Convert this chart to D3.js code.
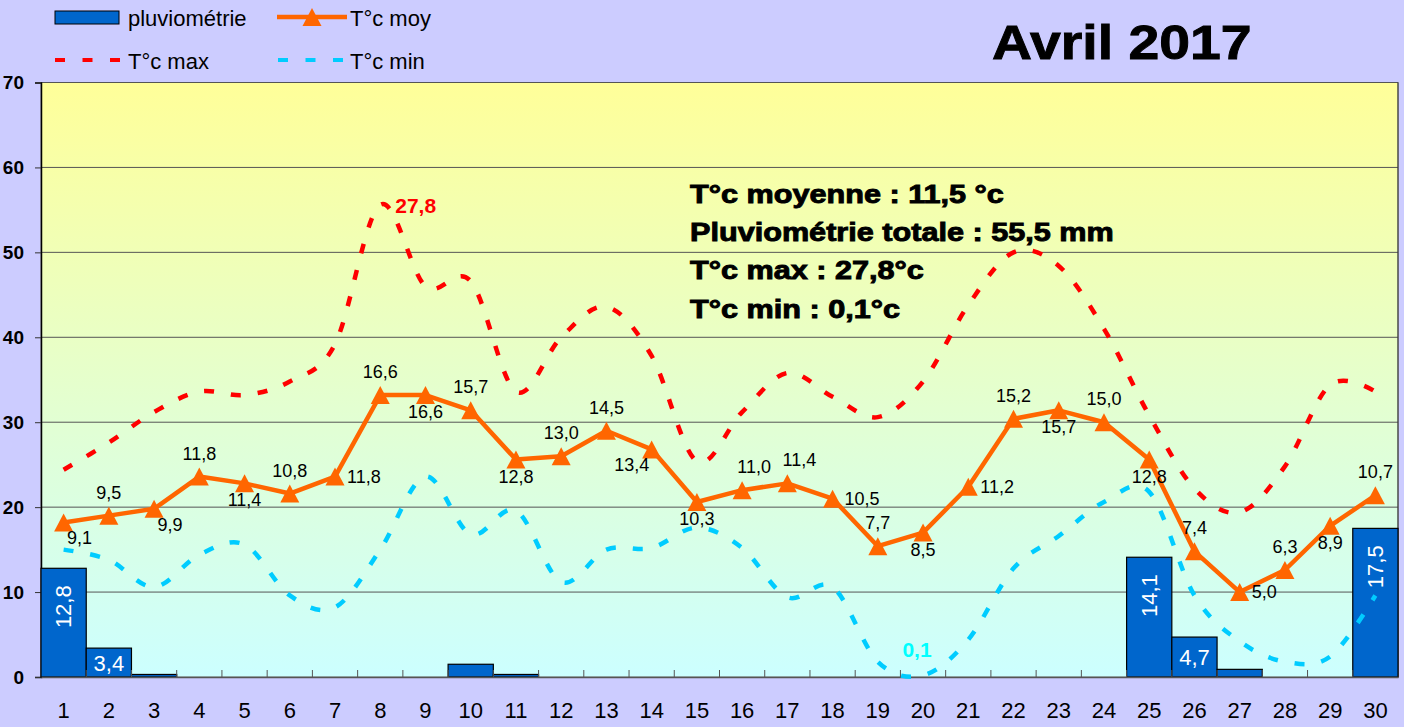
<!DOCTYPE html>
<html>
<head>
<meta charset="utf-8">
<script src="https://cdn.jsdelivr.net/npm/d3@7"></script>
<style>
  body { margin: 0; background: #ccccff; }
  text { font-family: "Liberation Sans", Arial, sans-serif; }
</style>
</head>
<body>
<div id="chart"></div>
<script>
// data
const days = [1, 2, 3, 4, 5, 6, 7, 8, 9, 10, 11, 12, 13, 14, 15, 16, 17, 18, 19, 20, 21, 22, 23, 24, 25, 26, 27, 28, 29, 30]
const rain = [12.8, 3.4, 0.3, 0, 0, 0, 0, 0, 0, 1.5, 0.3, 0, 0, 0, 0, 0, 0, 0, 0, 0, 0, 0, 0, 0, 14.1, 4.7, 0.9, 0, 0, 17.5]
const tMoy = [9.1, 9.5, 9.9, 11.8, 11.4, 10.8, 11.8, 16.6, 16.6, 15.7, 12.8, 13.0, 14.5, 13.4, 10.3, 11.0, 11.4, 10.5, 7.7, 8.5, 11.2, 15.2, 15.7, 15.0, 12.8, 7.4, 5.0, 6.3, 8.9, 10.7]
const tMax = [12.2, 13.8, 15.6, 16.8, 16.6, 17.4, 19.6, 27.8, 23.0, 23.3, 16.8, 20.0, 21.8, 18.9, 12.7, 15.6, 17.9, 16.5, 15.3, 17.4, 21.9, 25.0, 24.2, 20.5, 15.4, 11.1, 9.7, 12.4, 17.2, 16.8]
const tMin = [7.5, 6.9, 5.3, 7.2, 7.8, 4.8, 4.1, 7.5, 11.8, 8.4, 9.8, 5.6, 7.5, 7.6, 8.8, 7.6, 4.7, 5.3, 0.9, 0.1, 2.2, 6.4, 8.3, 10.3, 10.9, 4.8, 2.1, 0.9, 1.2, 4.8]
const yTicks = [0, 10, 20, 30, 40, 50, 60, 70]
// where the label of each T°c moy point sits
const moyLabelPos = ['br', 'a', 'br', 'a', 'b', 'a', 'r', 'a', 'b', 'a', 'b', 'a', 'a', 'bl', 'b', 'ar', 'ar', 'r', 'a', 'b', 'r', 'a', 'b', 'a', 'b', 'a', 'r', 'a', 'b', 'a']

const width = 1404, height = 727
const plot = { left: 41, right: 1398, top: 82.5, bottom: 677 }
const colors = { bar: "#0066cc", moy: "#ff6600", max: "#ff0000", min: "#00ccff", minLabel: "#00ffff", grid: "#555555" }
const fmt = v => d3.format(".1f")(v).replace(".", ",")

const svg = d3.select("#chart")
    .append("svg")
    .attr("width", width)
    .attr("height", height)
    .style("background-color", "#ccccff")

const defs = svg.append("defs")
const grad = defs.append("linearGradient")
    .attr("id", "plot-bg")
    .attr("x1", 0).attr("y1", 0).attr("x2", 0).attr("y2", 1)
grad.append("stop").attr("offset", "0%").attr("stop-color", "#ffff99")
grad.append("stop").attr("offset", "100%").attr("stop-color", "#ccffff")

// scales
const x = d3.scaleBand()
    .domain(days)
    .range([plot.left, plot.right])
    .padding(0)

const y = d3.scaleLinear()
    .domain([0, 70])
    .range([plot.bottom, plot.top])

// temperatures use a hidden secondary axis, 0..35
const yT = d3.scaleLinear()
    .domain([0, 35])
    .range([plot.bottom, plot.top])

const cx = d => x(d) + x.bandwidth() / 2

// plot background
svg.append("rect")
    .attr("x", plot.left)
    .attr("y", plot.top)
    .attr("width", plot.right - plot.left)
    .attr("height", plot.bottom - plot.top)
    .attr("fill", "url(#plot-bg)")
    .attr("stroke", "#777")

// grid
svg.append("g")
    .selectAll("line")
    .data(yTicks.filter(t => t > 0))
    .join("line")
    .attr("x1", plot.left)
    .attr("x2", plot.right)
    .attr("y1", d => y(d))
    .attr("y2", d => y(d))
    .attr("stroke", colors.grid)
    .attr("stroke-width", 1)

// right border
svg.append("line")
    .attr("x1", plot.right).attr("x2", plot.right)
    .attr("y1", plot.top).attr("y2", plot.bottom)
    .attr("stroke", "#333")

// y axis
const yAxis = svg.append("g")
    .attr("transform", `translate(${plot.left},0)`)
    .call(d3.axisLeft(y).tickValues(yTicks).tickSize(6).tickPadding(11))
yAxis.select(".domain").attr("stroke", "#000").attr("stroke-width", 1.5)
yAxis.selectAll(".tick line").attr("stroke", "#333")
yAxis.selectAll("text")
    .style("font-family", '"Liberation Sans", Arial, sans-serif')
    .attr("font-size", 19)
    .attr("font-weight", "bold")
    .attr("fill", "#000")

// bars
svg.append("g")
    .selectAll("rect")
    .data(days.filter((d, i) => rain[i] > 0))
    .join("rect")
    .attr("x", d => x(d))
    .attr("width", x.bandwidth())
    .attr("y", d => y(rain[d - 1]))
    .attr("height", d => y(0) - y(rain[d - 1]))
    .attr("fill", colors.bar)
    .attr("stroke", "#000")
    .attr("stroke-width", 1.2)

// x axis
const xAxis = svg.append("g")
    .attr("transform", `translate(0,${plot.bottom})`)
    .call(d3.axisBottom(x).tickSize(0).tickPadding(25))
xAxis.select(".domain").attr("stroke", "#555").attr("stroke-width", 1.5)
xAxis.selectAll("text")
    .style("font-family", '"Liberation Sans", Arial, sans-serif')
    .attr("font-size", 22)
    .attr("fill", "#000")

// small ticks between categories, pointing up
svg.append("g")
    .selectAll("line")
    .data(days.slice(1))
    .join("line")
    .attr("x1", d => x(d))
    .attr("x2", d => x(d))
    .attr("y1", plot.bottom)
    .attr("y2", plot.bottom - 7)
    .attr("stroke", "#555")

// bar labels
days.forEach((d, i) => {
    const v = rain[i]
    if (v < 2) return
    if (v >= 10) {
        svg.append("text")
            .attr("transform", `translate(${cx(d)},${y(v) + 17}) rotate(-90)`)
            .attr("text-anchor", "end")
            .attr("dominant-baseline", "central")
            .attr("font-size", 22)
            .attr("fill", "#fff")
            .text(fmt(v))
    } else {
        svg.append("text")
            .attr("x", cx(d))
            .attr("y", (y(v) + y(0)) / 2 + 8)
            .attr("text-anchor", "middle")
            .attr("font-size", 22)
            .attr("fill", "#fff")
            .text(fmt(v))
    }
})

// smoothed max / min lines
const smooth = (arr) => d3.line()
    .x((v, i) => cx(days[i]))
    .y(v => yT(v))
    .curve(d3.curveCardinal.tension(0))(arr)

svg.append("path")
    .attr("d", smooth(tMax))
    .attr("fill", "none")
    .attr("stroke", colors.max)
    .attr("stroke-width", 4.5)
    .attr("stroke-dasharray", "10,17")

svg.append("path")
    .attr("d", smooth(tMin))
    .attr("fill", "none")
    .attr("stroke", colors.min)
    .attr("stroke-width", 4.5)
    .attr("stroke-dasharray", "10,17")

// mean line
svg.append("path")
    .attr("d", d3.line().x((v, i) => cx(days[i])).y(v => yT(v))(tMoy))
    .attr("fill", "none")
    .attr("stroke", colors.moy)
    .attr("stroke-width", 4.5)
    .attr("stroke-linejoin", "round")

const trianglePath = "M0,-9L9.5,9L-9.5,9Z"
svg.append("g")
    .selectAll("path")
    .data(days)
    .join("path")
    .attr("d", trianglePath)
    .attr("transform", (d, i) => `translate(${cx(d)},${yT(tMoy[i])})`)
    .attr("fill", colors.moy)

// mean labels
const offsets = {
    a: { dx: 0, dy: -17, anchor: "middle" },
    ar: { dx: 12, dy: -17, anchor: "middle" },
    b: { dx: 0, dy: 23, anchor: "middle" },
    br: { dx: 16, dy: 22, anchor: "middle" },
    bl: { dx: -20, dy: 22, anchor: "middle" },
    r: { dx: 12, dy: 6, anchor: "start" }
}
svg.append("g")
    .selectAll("text")
    .data(days)
    .join("text")
    .attr("x", (d, i) => cx(d) + offsets[moyLabelPos[i]].dx)
    .attr("y", (d, i) => yT(tMoy[i]) + offsets[moyLabelPos[i]].dy)
    .attr("text-anchor", (d, i) => offsets[moyLabelPos[i]].anchor)
    .attr("font-size", 18)
    .attr("fill", "#000")
    .text((d, i) => fmt(tMoy[i]))

// extreme labels
const iMax = d3.maxIndex(tMax), iMin = d3.minIndex(tMin)
svg.append("text")
    .attr("x", cx(days[iMax]) + 15)
    .attr("y", yT(tMax[iMax]) + 8)
    .attr("font-size", 21)
    .attr("font-weight", "bold")
    .attr("fill", colors.max)
    .text(fmt(tMax[iMax]))

svg.append("text")
    .attr("x", cx(days[iMin]) - 6)
    .attr("y", yT(tMin[iMin]) - 18)
    .attr("text-anchor", "middle")
    .attr("font-size", 21)
    .attr("font-weight", "bold")
    .attr("fill", colors.minLabel)
    .text(fmt(tMin[iMin]))

// heavy text helper (imitates a black weight)
function heavy(sel, factor) {
    sel.attr("font-weight", "bold")
        .attr("stroke", "#000")
        .attr("stroke-width", 0.9)
        .attr("fill", "#000")
    const n = sel.node().getComputedTextLength()
    sel.attr("textLength", n * factor).attr("lengthAdjust", "spacingAndGlyphs")
}

// summary
const summary = [
    `T°c moyenne : ${fmt(d3.mean(tMoy))} °c`,
    `Pluviométrie totale : ${fmt(d3.sum(rain))} mm`,
    `T°c max : ${fmt(d3.max(tMax))}°c`,
    `T°c min : ${fmt(d3.min(tMin))}°c`
]
summary.forEach((s, i) => {
    const t = svg.append("text")
        .attr("x", 690)
        .attr("y", 203 + i * 38.2)
        .attr("font-size", 25)
        .text(s)
    heavy(t, 1.225)
})

// title
const title = svg.append("text")
    .attr("x", 992)
    .attr("y", 59)
    .attr("font-size", 49)
    .text("Avril 2017")
heavy(title, 1.13)

// legend
const legend = svg.append("g")
legend.append("rect")
    .attr("x", 55).attr("y", 11).attr("width", 64).attr("height", 13)
    .attr("fill", colors.bar).attr("stroke", "#000")
legend.append("text").attr("x", 128).attr("y", 26).attr("font-size", 22).text("pluviométrie")

legend.append("line")
    .attr("x1", 277).attr("x2", 347).attr("y1", 17).attr("y2", 17)
    .attr("stroke", colors.moy).attr("stroke-width", 4.5)
legend.append("path")
    .attr("d", trianglePath)
    .attr("transform", "translate(312,17)")
    .attr("fill", colors.moy)
legend.append("text").attr("x", 350).attr("y", 26).attr("font-size", 22).text("T°c moy")

legend.append("line")
    .attr("x1", 55).attr("x2", 120).attr("y1", 60).attr("y2", 60)
    .attr("stroke", colors.max).attr("stroke-width", 4).attr("stroke-dasharray", "10,17.5")
legend.append("text").attr("x", 128).attr("y", 69).attr("font-size", 22).text("T°c max")

legend.append("line")
    .attr("x1", 278).attr("x2", 343).attr("y1", 60).attr("y2", 60)
    .attr("stroke", colors.min).attr("stroke-width", 4).attr("stroke-dasharray", "10,17.5")
legend.append("text").attr("x", 350).attr("y", 69).attr("font-size", 22).text("T°c min")
</script>
</body>
</html>
